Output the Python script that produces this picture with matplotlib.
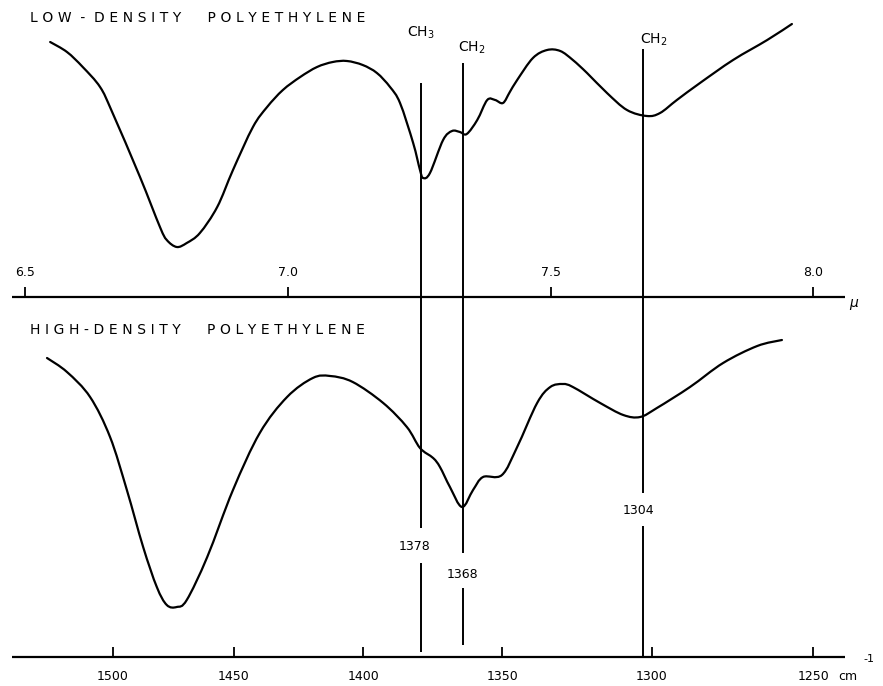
import matplotlib
matplotlib.use('Agg')
import matplotlib.pyplot as plt
from matplotlib.path import Path
from matplotlib.patches import PathPatch

# espectro IR del polietileno, eje x en micras, eje y en altura de la pluma
mu_low = [6.547, 6.579, 6.609, 6.642, 6.665, 6.718, 6.756, 6.769, 6.788,
          6.807, 6.832, 6.865, 6.895, 6.933, 6.960, 6.990, 7.023, 7.055, 7.085,
          7.112, 7.142, 7.169, 7.194, 7.213, 7.238, 7.251, 7.257, 7.270, 7.295,
          7.312, 7.327, 7.340, 7.360, 7.379, 7.394, 7.409, 7.422, 7.436, 7.466,
          7.493, 7.518, 7.542, 7.569, 7.607, 7.645, 7.683, 7.708, 7.740, 7.784,
          7.847, 7.912, 7.959]
pen_low = [644, 634, 619, 599, 574, 509, 459, 446, 439,
           443, 453, 479, 516, 559, 579, 596, 609, 619, 624,
           625, 621, 613, 599, 583, 543, 516, 508, 513, 546,
           555, 554, 552, 566, 586, 586, 583, 594, 606, 628,
           636, 635, 626, 613, 593, 576, 570, 573, 586, 603,
           626, 646, 662]

mu_high = [6.541, 6.579, 6.623, 6.661, 6.693, 6.724, 6.750, 6.769, 6.788, 6.807,
           6.846, 6.895, 6.946, 6.998, 7.047, 7.080, 7.123, 7.181, 7.226, 7.251,
           7.276, 7.289, 7.308, 7.331, 7.352, 7.371, 7.407, 7.436, 7.474, 7.499,
           7.523, 7.542, 7.594, 7.638, 7.670, 7.702, 7.765, 7.828, 7.893, 7.940]
pen_high = [328, 314, 289, 249, 196, 139, 99, 81, 79, 86,
            129, 196, 253, 289, 308, 310, 304, 283, 259, 238,
            228, 219, 199, 179, 196, 209, 211, 239, 283, 299,
            302, 299, 283, 271, 269, 278, 299, 323, 340, 346]

banda_mu = [7.253, 7.333, 7.676]
banda_cm = ['1378', '1368', '1304']
banda_grupo = ['CH$_3$', 'CH$_2$', 'CH$_2$']

ticks_mu = [6.5, 7.0, 7.5, 8.0]
ticks_cm = [1500, 1450, 1400, 1350, 1300, 1250]


def trazo_suave(ax, xs, ys):
    # curva de Bezier que pasa por los puntos (Catmull-Rom)
    pts = list(zip(xs, ys))
    verts = [pts[0]]
    codes = [Path.MOVETO]
    for i in range(len(pts) - 1):
        p0 = pts[max(i - 1, 0)]
        p1 = pts[i]
        p2 = pts[i + 1]
        p3 = pts[min(i + 2, len(pts) - 1)]
        c1 = (p1[0] + (p2[0] - p0[0]) / 6, p1[1] + (p2[1] - p0[1]) / 6)
        c2 = (p2[0] - (p3[0] - p1[0]) / 6, p2[1] - (p3[1] - p1[1]) / 6)
        verts += [c1, c2, p2]
        codes += [Path.CURVE4] * 3
    ax.add_patch(PathPatch(Path(verts, codes), fill=False, edgecolor='black',
                           lw=1.6, capstyle='round', joinstyle='round'))


def espaciado(s):
    return '\u2004'.join(s)


fig = plt.figure(figsize=(8.83, 6.86), dpi=100)
ax = fig.add_axes([0, 0, 1, 1])
ax.set_xlim(6.4515, 8.1324)
ax.set_ylim(0, 686)
ax.axis('off')

trazo_suave(ax, mu_low, pen_low)
trazo_suave(ax, mu_high, pen_high)

# lineas verticales de las bandas
ax.vlines(banda_mu[0], 158, 603, color='black', lw=1.4)
ax.vlines(banda_mu[0], 34, 123, color='black', lw=1.4)
ax.vlines(banda_mu[1], 133, 623, color='black', lw=1.4)
ax.vlines(banda_mu[1], 41, 98, color='black', lw=1.4)
ax.vlines(banda_mu[2], 193, 637, color='black', lw=1.4)
ax.vlines(banda_mu[2], 29, 160, color='black', lw=1.4)

# nombres de grupos arriba
ax.text(banda_mu[0], 653, banda_grupo[0], ha='center', va='center', fontsize=10)
ax.text(banda_mu[1] + 0.017, 638, banda_grupo[1], ha='center', va='center', fontsize=10)
ax.text(banda_mu[2] + 0.020, 646, banda_grupo[2], ha='center', va='center', fontsize=10)

# numeros de onda abajo
ax.text(banda_mu[0] - 0.013, 139, banda_cm[0], ha='center', va='center', fontsize=9)
ax.text(banda_mu[1] - 0.002, 111, banda_cm[1], ha='center', va='center', fontsize=9)
ax.text(banda_mu[2] - 0.010, 175, banda_cm[2], ha='center', va='center', fontsize=9)

# eje de micras
ax.hlines(389, 6.474, 8.060, color='black', lw=1.6)
for t in ticks_mu:
    ax.vlines(t, 389, 399, color='black', lw=1.3)
    ax.text(t, 414, '%.1f' % t, ha='center', va='center', fontsize=9)
ax.text(8.068, 381, r'$\mu$', ha='left', va='center', fontsize=10)

# eje de cm-1 (no lineal, 10000/lambda)
ax.hlines(29, 6.474, 8.060, color='black', lw=1.6)
for t in ticks_cm:
    ax.vlines(10000 / t, 29, 39, color='black', lw=1.3)
    ax.text(10000 / t, 10, str(t), ha='center', va='center', fontsize=9)
ax.text(8.048, 10, 'cm', ha='left', va='center', fontsize=9)
ax.text(8.096, 27, '-1', ha='left', va='center', fontsize=8)

ax.text(6.509, 668, espaciado('LOW') + '  -  ' + espaciado('DENSITY') + '      '
        + espaciado('POLYETHYLENE'), ha='left', va='center', fontsize=10)
ax.text(6.509, 356, espaciado('HIGH-DENSITY') + '      ' + espaciado('POLYETHYLENE'),
        ha='left', va='center', fontsize=10)

fig.savefig('out.png', dpi=100)
